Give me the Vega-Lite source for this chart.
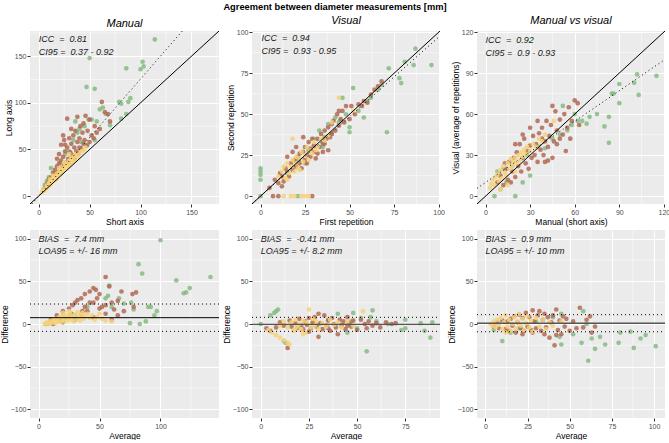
{
"$schema":"https://vega.github.io/schema/vega-lite/v6.json",
"padding":{"left":0,"top":2,"right":4,"bottom":0},
"background":"white",
"title":{"text":"Agreement between diameter measurements [mm]","fontSize":9.3,"fontWeight":"bold","font":"Liberation Sans","anchor":"middle","offset":3,"color":"black"},
"config":{
 "view":{"fill":"#ebebeb","stroke":null},
 "axis":{"domain":false,"grid":true,"gridColor":"white","gridWidth":1,"tickColor":"#333333","tickSize":3,"labelColor":"#4d4d4d","labelFontSize":7,"labelPadding":1,"titleFontSize":8.5,"titleFontWeight":"normal","titleColor":"black","labelFont":"Liberation Sans","titleFont":"Liberation Sans","titlePadding":1,"minExtent":0},
 "axisX":{"titlePadding":2},
 "text":{"font":"Liberation Sans"}
},
"datasets":{
"txt":[
{"p":1,"x":0,"y":168,"s":"ICC\u00a0 =\u00a0 0.81"},{"p":1,"x":0,"y":154,"s":"CI95 =\u00a0 0.37 - 0.92"},
{"p":2,"x":0.5,"y":96.4,"s":"ICC\u00a0 =\u00a0 0.94"},{"p":2,"x":0.5,"y":88.5,"s":"CI95 =\u00a0 0.93 - 0.95"},
{"p":3,"x":0,"y":114,"s":"ICC\u00a0 =\u00a0 0.92"},{"p":3,"x":0,"y":105,"s":"CI95 =\u00a0 0.9 - 0.93"},
{"p":4,"x":0,"y":100,"s":"BIAS\u00a0 =\u00a0 7.4 mm"},{"p":4,"x":0,"y":85,"s":"LOA95 = +/- 16 mm"},
{"p":5,"x":0,"y":100,"s":"BIAS\u00a0 =\u00a0 -0.41 mm"},{"p":5,"x":0,"y":85,"s":"LOA95 = +/- 8.2 mm"},
{"p":6,"x":0,"y":100,"s":"BIAS\u00a0 =\u00a0 0.9 mm"},{"p":6,"x":0,"y":85,"s":"LOA95 = +/- 10 mm"}
],
"lns":[
{"p":1,"t":"s","g":"a","x":-8.5,"y":-8.5},{"p":1,"t":"s","g":"a","x":177,"y":177},
{"p":1,"t":"d","g":"b","x":-6.77,"y":-8.5},{"p":1,"t":"d","g":"b","x":141,"y":177},
{"p":2,"t":"s","g":"a","x":-4.8,"y":-4.8},{"p":2,"t":"s","g":"a","x":100.8,"y":100.8},
{"p":2,"t":"d","g":"b","x":-4.8,"y":-4.66},{"p":2,"t":"d","g":"b","x":100.8,"y":97.78},
{"p":3,"t":"s","g":"a","x":-5.75,"y":-5.75},{"p":3,"t":"s","g":"a","x":120.75,"y":120.75},
{"p":3,"t":"d","g":"b","x":-5.75,"y":5.72},{"p":3,"t":"d","g":"b","x":120.75,"y":99.96},
{"p":4,"t":"s","g":"a","x":-7,"y":7.4},{"p":4,"t":"s","g":"a","x":148,"y":7.4},
{"p":4,"t":"d","g":"b","x":-7,"y":23.4},{"p":4,"t":"d","g":"b","x":148,"y":23.4},
{"p":4,"t":"d","g":"c","x":-7,"y":-8.6},{"p":4,"t":"d","g":"c","x":148,"y":-8.6},
{"p":5,"t":"s","g":"a","x":-4.5,"y":-0.41},{"p":5,"t":"s","g":"a","x":93,"y":-0.41},
{"p":5,"t":"d","g":"b","x":-4.5,"y":7.79},{"p":5,"t":"d","g":"b","x":93,"y":7.79},
{"p":5,"t":"d","g":"c","x":-4.5,"y":-8.61},{"p":5,"t":"d","g":"c","x":93,"y":-8.61},
{"p":6,"t":"s","g":"a","x":-5,"y":0.9},{"p":6,"t":"s","g":"a","x":106.5,"y":0.9},
{"p":6,"t":"d","g":"b","x":-5,"y":10.9},{"p":6,"t":"d","g":"b","x":106.5,"y":10.9},
{"p":6,"t":"d","g":"c","x":-5,"y":-9.1},{"p":6,"t":"d","g":"c","x":106.5,"y":-9.1}
],
"grid":[
{"p":1,"o":"v","v":25},{"p":1,"o":"v","v":75},{"p":1,"o":"v","v":125},{"p":1,"o":"v","v":175},
{"p":1,"o":"h","v":25},{"p":1,"o":"h","v":75},{"p":1,"o":"h","v":125},{"p":1,"o":"h","v":175},
{"p":2,"o":"v","v":12.5},{"p":2,"o":"v","v":37.5},{"p":2,"o":"v","v":62.5},{"p":2,"o":"v","v":87.5},
{"p":2,"o":"h","v":12.5},{"p":2,"o":"h","v":37.5},{"p":2,"o":"h","v":62.5},{"p":2,"o":"h","v":87.5},
{"p":3,"o":"v","v":15},{"p":3,"o":"v","v":45},{"p":3,"o":"v","v":75},{"p":3,"o":"v","v":105},
{"p":3,"o":"h","v":15},{"p":3,"o":"h","v":45},{"p":3,"o":"h","v":75},{"p":3,"o":"h","v":105},
{"p":4,"o":"v","v":25},{"p":4,"o":"v","v":75},{"p":4,"o":"v","v":125},
{"p":4,"o":"h","v":-75},{"p":4,"o":"h","v":-25},{"p":4,"o":"h","v":25},{"p":4,"o":"h","v":75},
{"p":5,"o":"v","v":12.5},{"p":5,"o":"v","v":37.5},{"p":5,"o":"v","v":62.5},{"p":5,"o":"v","v":87.5},
{"p":5,"o":"h","v":-75},{"p":5,"o":"h","v":-25},{"p":5,"o":"h","v":25},{"p":5,"o":"h","v":75},
{"p":6,"o":"v","v":12.5},{"p":6,"o":"v","v":37.5},{"p":6,"o":"v","v":62.5},{"p":6,"o":"v","v":87.5},
{"p":6,"o":"h","v":-75},{"p":6,"o":"h","v":-25},{"p":6,"o":"h","v":25},{"p":6,"o":"h","v":75}
],
"pts":[
{"p":1,"c":"g","x":6,"y":12},{"p":1,"c":"g","x":8,"y":16},{"p":1,"c":"g","x":10,"y":20},{"p":1,"c":"g","x":12,"y":30},{"p":1,"c":"g","x":14,"y":18},{"p":1,"c":"g","x":18,"y":25},{"p":1,"c":"g","x":22,"y":36},{"p":1,"c":"g","x":26,"y":45},{"p":1,"c":"g","x":30,"y":48},{"p":1,"c":"g","x":34,"y":60},{"p":1,"c":"g","x":36,"y":80},{"p":1,"c":"g","x":38,"y":68},{"p":1,"c":"g","x":40,"y":72},{"p":1,"c":"g","x":42,"y":58},{"p":1,"c":"g","x":45,"y":75},{"p":1,"c":"g","x":47,"y":117},{"p":1,"c":"g","x":49,"y":82},{"p":1,"c":"g","x":50,"y":148},{"p":1,"c":"g","x":52,"y":82},{"p":1,"c":"g","x":55,"y":115},{"p":1,"c":"g","x":57,"y":80},{"p":1,"c":"g","x":60,"y":93},{"p":1,"c":"g","x":63,"y":95},{"p":1,"c":"g","x":66,"y":88},{"p":1,"c":"g","x":79,"y":101},{"p":1,"c":"g","x":81,"y":83},{"p":1,"c":"g","x":81,"y":99},{"p":1,"c":"g","x":86,"y":88},{"p":1,"c":"g","x":86,"y":137},{"p":1,"c":"g","x":88,"y":101},{"p":1,"c":"g","x":90,"y":105},{"p":1,"c":"g","x":100,"y":136},{"p":1,"c":"g","x":102,"y":144},{"p":1,"c":"g","x":103,"y":139},{"p":1,"c":"g","x":114,"y":168},{"p":1,"c":"g","x":55,"y":60},{"p":1,"c":"g","x":48,"y":55},{"p":1,"c":"g","x":70,"y":76},
{"p":1,"c":"b","x":5,"y":7},{"p":1,"c":"b","x":7,"y":10},{"p":1,"c":"b","x":9,"y":14},{"p":1,"c":"b","x":10,"y":18},{"p":1,"c":"b","x":12,"y":20},{"p":1,"c":"b","x":13,"y":16},{"p":1,"c":"b","x":14,"y":25},{"p":1,"c":"b","x":15,"y":22},{"p":1,"c":"b","x":16,"y":28},{"p":1,"c":"b","x":17,"y":19},{"p":1,"c":"b","x":18,"y":32},{"p":1,"c":"b","x":19,"y":25},{"p":1,"c":"b","x":20,"y":35},{"p":1,"c":"b","x":20,"y":45},{"p":1,"c":"b","x":21,"y":28},{"p":1,"c":"b","x":22,"y":38},{"p":1,"c":"b","x":22,"y":55},{"p":1,"c":"b","x":23,"y":30},{"p":1,"c":"b","x":24,"y":42},{"p":1,"c":"b","x":25,"y":33},{"p":1,"c":"b","x":25,"y":60},{"p":1,"c":"b","x":26,"y":48},{"p":1,"c":"b","x":27,"y":36},{"p":1,"c":"b","x":28,"y":52},{"p":1,"c":"b","x":28,"y":83},{"p":1,"c":"b","x":29,"y":40},{"p":1,"c":"b","x":30,"y":62},{"p":1,"c":"b","x":30,"y":35},{"p":1,"c":"b","x":31,"y":47},{"p":1,"c":"b","x":32,"y":56},{"p":1,"c":"b","x":33,"y":44},{"p":1,"c":"b","x":34,"y":65},{"p":1,"c":"b","x":35,"y":40},{"p":1,"c":"b","x":35,"y":52},{"p":1,"c":"b","x":36,"y":70},{"p":1,"c":"b","x":37,"y":48},{"p":1,"c":"b","x":38,"y":58},{"p":1,"c":"b","x":39,"y":45},{"p":1,"c":"b","x":40,"y":62},{"p":1,"c":"b","x":40,"y":52},{"p":1,"c":"b","x":41,"y":75},{"p":1,"c":"b","x":42,"y":50},{"p":1,"c":"b","x":43,"y":68},{"p":1,"c":"b","x":44,"y":56},{"p":1,"c":"b","x":45,"y":60},{"p":1,"c":"b","x":46,"y":86},{"p":1,"c":"b","x":47,"y":54},{"p":1,"c":"b","x":48,"y":70},{"p":1,"c":"b","x":50,"y":58},{"p":1,"c":"b","x":52,"y":65},{"p":1,"c":"b","x":54,"y":62},{"p":1,"c":"b","x":55,"y":75},{"p":1,"c":"b","x":57,"y":68},{"p":1,"c":"b","x":60,"y":72},{"p":1,"c":"b","x":62,"y":101},{"p":1,"c":"b","x":65,"y":90},{"p":1,"c":"b","x":68,"y":88},{"p":1,"c":"b","x":70,"y":80},{"p":1,"c":"b","x":24,"y":65},{"p":1,"c":"b","x":32,"y":72},{"p":1,"c":"b","x":38,"y":85},{"p":1,"c":"b","x":18,"y":40},{"p":1,"c":"b","x":26,"y":55},{"p":1,"c":"b","x":44,"y":78},{"p":1,"c":"b","x":50,"y":82},
{"p":1,"c":"y","x":3,"y":4},{"p":1,"c":"y","x":4,"y":5},{"p":1,"c":"y","x":5,"y":6},{"p":1,"c":"y","x":6,"y":7},{"p":1,"c":"y","x":7,"y":8},{"p":1,"c":"y","x":8,"y":9},{"p":1,"c":"y","x":8,"y":11},{"p":1,"c":"y","x":9,"y":10},{"p":1,"c":"y","x":10,"y":12},{"p":1,"c":"y","x":10,"y":14},{"p":1,"c":"y","x":11,"y":12},{"p":1,"c":"y","x":12,"y":15},{"p":1,"c":"y","x":12,"y":13},{"p":1,"c":"y","x":13,"y":17},{"p":1,"c":"y","x":14,"y":16},{"p":1,"c":"y","x":15,"y":18},{"p":1,"c":"y","x":15,"y":20},{"p":1,"c":"y","x":16,"y":17},{"p":1,"c":"y","x":17,"y":21},{"p":1,"c":"y","x":18,"y":20},{"p":1,"c":"y","x":18,"y":24},{"p":1,"c":"y","x":19,"y":22},{"p":1,"c":"y","x":20,"y":23},{"p":1,"c":"y","x":20,"y":26},{"p":1,"c":"y","x":21,"y":24},{"p":1,"c":"y","x":22,"y":28},{"p":1,"c":"y","x":23,"y":25},{"p":1,"c":"y","x":24,"y":30},{"p":1,"c":"y","x":25,"y":28},{"p":1,"c":"y","x":26,"y":33},{"p":1,"c":"y","x":27,"y":30},{"p":1,"c":"y","x":28,"y":35},{"p":1,"c":"y","x":29,"y":32},{"p":1,"c":"y","x":30,"y":38},{"p":1,"c":"y","x":31,"y":34},{"p":1,"c":"y","x":32,"y":40},{"p":1,"c":"y","x":33,"y":36},{"p":1,"c":"y","x":34,"y":42},{"p":1,"c":"y","x":35,"y":38},{"p":1,"c":"y","x":36,"y":45},{"p":1,"c":"y","x":38,"y":42},{"p":1,"c":"y","x":40,"y":45},{"p":1,"c":"y","x":42,"y":48},{"p":1,"c":"y","x":44,"y":49},{"p":1,"c":"y","x":46,"y":52},{"p":1,"c":"y","x":30,"y":45},{"p":1,"c":"y","x":25,"y":36},{"p":1,"c":"y","x":20,"y":30},{"p":1,"c":"y","x":14,"y":22},{"p":1,"c":"y","x":11,"y":18},

{"p":2,"c":"g","x":0,"y":0},{"p":2,"c":"g","x":0,"y":10},{"p":2,"c":"g","x":0,"y":13},{"p":2,"c":"g","x":0,"y":15},{"p":2,"c":"g","x":0,"y":17},{"p":2,"c":"g","x":21,"y":0},{"p":2,"c":"g","x":87,"y":90},{"p":2,"c":"g","x":81,"y":82},{"p":2,"c":"g","x":86,"y":80},{"p":2,"c":"g","x":96,"y":80},{"p":2,"c":"g","x":72,"y":78},{"p":2,"c":"g","x":78,"y":72},{"p":2,"c":"g","x":79,"y":69},{"p":2,"c":"g","x":71,"y":39},{"p":2,"c":"g","x":52,"y":66},{"p":2,"c":"g","x":50,"y":42},{"p":2,"c":"g","x":50,"y":39},{"p":2,"c":"g","x":58,"y":48},{"p":2,"c":"g","x":62,"y":60},{"p":2,"c":"g","x":68,"y":68},{"p":2,"c":"g","x":66,"y":65},{"p":2,"c":"g","x":46,"y":60},{"p":2,"c":"g","x":45,"y":46},{"p":2,"c":"g","x":42,"y":48},{"p":2,"c":"g","x":38,"y":44},{"p":2,"c":"g","x":35,"y":30},{"p":2,"c":"g","x":30,"y":35},{"p":2,"c":"g","x":25,"y":20},{"p":2,"c":"g","x":20,"y":22},{"p":2,"c":"g","x":15,"y":14},{"p":2,"c":"g","x":40,"y":38},{"p":2,"c":"g","x":55,"y":52},{"p":2,"c":"g","x":60,"y":58},{"p":2,"c":"g","x":44,"y":45},{"p":2,"c":"g","x":48,"y":50},{"p":2,"c":"g","x":36,"y":36},{"p":2,"c":"g","x":33,"y":40},{"p":2,"c":"g","x":27,"y":28},
{"p":2,"c":"b","x":5,"y":5},{"p":2,"c":"b","x":8,"y":10},{"p":2,"c":"b","x":10,"y":8},{"p":2,"c":"b","x":11,"y":14},{"p":2,"c":"b","x":12,"y":12},{"p":2,"c":"b","x":13,"y":9},{"p":2,"c":"b","x":14,"y":17},{"p":2,"c":"b","x":15,"y":15},{"p":2,"c":"b","x":16,"y":12},{"p":2,"c":"b","x":17,"y":20},{"p":2,"c":"b","x":18,"y":16},{"p":2,"c":"b","x":19,"y":22},{"p":2,"c":"b","x":20,"y":18},{"p":2,"c":"b","x":21,"y":24},{"p":2,"c":"b","x":22,"y":20},{"p":2,"c":"b","x":22,"y":26},{"p":2,"c":"b","x":23,"y":17},{"p":2,"c":"b","x":24,"y":27},{"p":2,"c":"b","x":25,"y":22},{"p":2,"c":"b","x":25,"y":30},{"p":2,"c":"b","x":26,"y":25},{"p":2,"c":"b","x":27,"y":33},{"p":2,"c":"b","x":28,"y":24},{"p":2,"c":"b","x":28,"y":29},{"p":2,"c":"b","x":29,"y":35},{"p":2,"c":"b","x":30,"y":27},{"p":2,"c":"b","x":30,"y":31},{"p":2,"c":"b","x":31,"y":23},{"p":2,"c":"b","x":32,"y":35},{"p":2,"c":"b","x":33,"y":30},{"p":2,"c":"b","x":34,"y":38},{"p":2,"c":"b","x":35,"y":32},{"p":2,"c":"b","x":35,"y":27},{"p":2,"c":"b","x":36,"y":40},{"p":2,"c":"b","x":37,"y":35},{"p":2,"c":"b","x":38,"y":42},{"p":2,"c":"b","x":39,"y":36},{"p":2,"c":"b","x":40,"y":44},{"p":2,"c":"b","x":40,"y":38},{"p":2,"c":"b","x":41,"y":46},{"p":2,"c":"b","x":42,"y":40},{"p":2,"c":"b","x":43,"y":50},{"p":2,"c":"b","x":44,"y":43},{"p":2,"c":"b","x":45,"y":47},{"p":2,"c":"b","x":46,"y":52},{"p":2,"c":"b","x":47,"y":45},{"p":2,"c":"b","x":48,"y":55},{"p":2,"c":"b","x":50,"y":47},{"p":2,"c":"b","x":51,"y":55},{"p":2,"c":"b","x":53,"y":50},{"p":2,"c":"b","x":55,"y":56},{"p":2,"c":"b","x":57,"y":55},{"p":2,"c":"b","x":58,"y":58},{"p":2,"c":"b","x":60,"y":57},{"p":2,"c":"b","x":62,"y":62},{"p":2,"c":"b","x":64,"y":65},{"p":2,"c":"b","x":66,"y":67},{"p":2,"c":"b","x":68,"y":70},{"p":2,"c":"b","x":38,"y":28},{"p":2,"c":"b","x":24,"y":36},{"p":2,"c":"b","x":20,"y":30},{"p":2,"c":"b","x":15,"y":24},{"p":2,"c":"b","x":32,"y":26},{"p":2,"c":"b","x":44,"y":52},{"p":2,"c":"b","x":7,"y":0},{"p":2,"c":"b","x":10,"y":0},{"p":2,"c":"b","x":29,"y":0},{"p":2,"c":"b","x":12,"y":6},{"p":2,"c":"b","x":36,"y":32},{"p":2,"c":"b","x":26,"y":20},{"p":2,"c":"b","x":18,"y":27},
{"p":2,"c":"y","x":10,"y":12},{"p":2,"c":"y","x":12,"y":15},{"p":2,"c":"y","x":13,"y":18},{"p":2,"c":"y","x":14,"y":11},{"p":2,"c":"y","x":15,"y":20},{"p":2,"c":"y","x":16,"y":14},{"p":2,"c":"y","x":17,"y":18},{"p":2,"c":"y","x":18,"y":22},{"p":2,"c":"y","x":18,"y":35},{"p":2,"c":"y","x":19,"y":15},{"p":2,"c":"y","x":20,"y":20},{"p":2,"c":"y","x":20,"y":24},{"p":2,"c":"y","x":21,"y":17},{"p":2,"c":"y","x":22,"y":23},{"p":2,"c":"y","x":23,"y":27},{"p":2,"c":"y","x":24,"y":21},{"p":2,"c":"y","x":25,"y":25},{"p":2,"c":"y","x":26,"y":30},{"p":2,"c":"y","x":27,"y":22},{"p":2,"c":"y","x":28,"y":28},{"p":2,"c":"y","x":30,"y":33},{"p":2,"c":"y","x":31,"y":28},{"p":2,"c":"y","x":32,"y":30},{"p":2,"c":"y","x":34,"y":35},{"p":2,"c":"y","x":36,"y":34},{"p":2,"c":"y","x":38,"y":37},{"p":2,"c":"y","x":40,"y":45},{"p":2,"c":"y","x":44,"y":60},{"p":2,"c":"y","x":52,"y":52},{"p":2,"c":"y","x":13,"y":0},{"p":2,"c":"y","x":17,"y":0},{"p":2,"c":"y","x":19,"y":0},{"p":2,"c":"y","x":23,"y":0},{"p":2,"c":"y","x":25,"y":0},{"p":2,"c":"y","x":27,"y":0},{"p":2,"c":"y","x":15,"y":10},{"p":2,"c":"y","x":22,"y":16},{"p":2,"c":"y","x":29,"y":26},

{"p":3,"c":"g","x":6,"y":0},{"p":3,"c":"g","x":20,"y":0},{"p":3,"c":"g","x":10,"y":5},{"p":3,"c":"g","x":14,"y":10},{"p":3,"c":"g","x":8,"y":18},{"p":3,"c":"g","x":12,"y":20},{"p":3,"c":"g","x":25,"y":10},{"p":3,"c":"g","x":30,"y":15},{"p":3,"c":"g","x":40,"y":35},{"p":3,"c":"g","x":50,"y":45},{"p":3,"c":"g","x":52,"y":66},{"p":3,"c":"g","x":55,"y":48},{"p":3,"c":"g","x":102,"y":89},{"p":3,"c":"g","x":100,"y":83},{"p":3,"c":"g","x":90,"y":82},{"p":3,"c":"g","x":115,"y":88},{"p":3,"c":"g","x":103,"y":74},{"p":3,"c":"g","x":90,"y":68},{"p":3,"c":"g","x":85,"y":75},{"p":3,"c":"g","x":86,"y":75},{"p":3,"c":"g","x":75,"y":60},{"p":3,"c":"g","x":80,"y":51},{"p":3,"c":"g","x":83,"y":58},{"p":3,"c":"g","x":83,"y":39},{"p":3,"c":"g","x":70,"y":58},{"p":3,"c":"g","x":65,"y":55},{"p":3,"c":"g","x":60,"y":60},{"p":3,"c":"g","x":58,"y":52},{"p":3,"c":"g","x":62,"y":55},{"p":3,"c":"g","x":68,"y":53},{"p":3,"c":"g","x":45,"y":42},{"p":3,"c":"g","x":35,"y":36},{"p":3,"c":"g","x":28,"y":30},{"p":3,"c":"g","x":18,"y":22},
{"p":3,"c":"b","x":8,"y":10},{"p":3,"c":"b","x":10,"y":15},{"p":3,"c":"b","x":12,"y":8},{"p":3,"c":"b","x":14,"y":20},{"p":3,"c":"b","x":15,"y":12},{"p":3,"c":"b","x":16,"y":25},{"p":3,"c":"b","x":18,"y":18},{"p":3,"c":"b","x":19,"y":28},{"p":3,"c":"b","x":20,"y":14},{"p":3,"c":"b","x":21,"y":32},{"p":3,"c":"b","x":22,"y":22},{"p":3,"c":"b","x":23,"y":38},{"p":3,"c":"b","x":24,"y":18},{"p":3,"c":"b","x":25,"y":28},{"p":3,"c":"b","x":26,"y":42},{"p":3,"c":"b","x":27,"y":24},{"p":3,"c":"b","x":28,"y":33},{"p":3,"c":"b","x":29,"y":20},{"p":3,"c":"b","x":30,"y":37},{"p":3,"c":"b","x":31,"y":28},{"p":3,"c":"b","x":32,"y":44},{"p":3,"c":"b","x":33,"y":30},{"p":3,"c":"b","x":34,"y":38},{"p":3,"c":"b","x":35,"y":25},{"p":3,"c":"b","x":36,"y":46},{"p":3,"c":"b","x":37,"y":34},{"p":3,"c":"b","x":38,"y":50},{"p":3,"c":"b","x":39,"y":30},{"p":3,"c":"b","x":40,"y":40},{"p":3,"c":"b","x":40,"y":25},{"p":3,"c":"b","x":41,"y":55},{"p":3,"c":"b","x":42,"y":36},{"p":3,"c":"b","x":43,"y":44},{"p":3,"c":"b","x":44,"y":52},{"p":3,"c":"b","x":45,"y":28},{"p":3,"c":"b","x":45,"y":66},{"p":3,"c":"b","x":46,"y":40},{"p":3,"c":"b","x":47,"y":62},{"p":3,"c":"b","x":48,"y":48},{"p":3,"c":"b","x":50,"y":42},{"p":3,"c":"b","x":50,"y":56},{"p":3,"c":"b","x":52,"y":45},{"p":3,"c":"b","x":53,"y":60},{"p":3,"c":"b","x":55,"y":50},{"p":3,"c":"b","x":56,"y":65},{"p":3,"c":"b","x":57,"y":42},{"p":3,"c":"b","x":58,"y":55},{"p":3,"c":"b","x":60,"y":70},{"p":3,"c":"b","x":62,"y":68},{"p":3,"c":"b","x":63,"y":52},{"p":3,"c":"b","x":54,"y":33},{"p":3,"c":"b","x":30,"y":50},{"p":3,"c":"b","x":25,"y":45},{"p":3,"c":"b","x":35,"y":55},{"p":3,"c":"b","x":20,"y":38},{"p":3,"c":"b","x":17,"y":10},{"p":3,"c":"b","x":13,"y":24},{"p":3,"c":"b","x":42,"y":26},{"p":3,"c":"b","x":48,"y":38},{"p":3,"c":"b","x":38,"y":42},
{"p":3,"c":"y","x":3,"y":6},{"p":3,"c":"y","x":4,"y":9},{"p":3,"c":"y","x":5,"y":12},{"p":3,"c":"y","x":6,"y":8},{"p":3,"c":"y","x":7,"y":14},{"p":3,"c":"y","x":8,"y":16},{"p":3,"c":"y","x":9,"y":11},{"p":3,"c":"y","x":10,"y":19},{"p":3,"c":"y","x":11,"y":13},{"p":3,"c":"y","x":12,"y":22},{"p":3,"c":"y","x":13,"y":17},{"p":3,"c":"y","x":14,"y":15},{"p":3,"c":"y","x":15,"y":24},{"p":3,"c":"y","x":16,"y":20},{"p":3,"c":"y","x":17,"y":27},{"p":3,"c":"y","x":18,"y":22},{"p":3,"c":"y","x":19,"y":25},{"p":3,"c":"y","x":20,"y":28},{"p":3,"c":"y","x":21,"y":24},{"p":3,"c":"y","x":22,"y":30},{"p":3,"c":"y","x":23,"y":26},{"p":3,"c":"y","x":24,"y":32},{"p":3,"c":"y","x":25,"y":29},{"p":3,"c":"y","x":26,"y":34},{"p":3,"c":"y","x":27,"y":31},{"p":3,"c":"y","x":28,"y":36},{"p":3,"c":"y","x":30,"y":33},{"p":3,"c":"y","x":32,"y":38},{"p":3,"c":"y","x":34,"y":36},{"p":3,"c":"y","x":36,"y":42},{"p":3,"c":"y","x":38,"y":40},{"p":3,"c":"y","x":40,"y":45},{"p":3,"c":"y","x":46,"y":55},{"p":3,"c":"y","x":10,"y":5},{"p":3,"c":"y","x":15,"y":8},{"p":3,"c":"y","x":20,"y":18},

{"p":4,"c":"g","x":100,"y":98},{"p":4,"c":"g","x":82,"y":70},{"p":4,"c":"g","x":85,"y":59},{"p":4,"c":"g","x":113,"y":51},{"p":4,"c":"g","x":141,"y":55},{"p":4,"c":"g","x":124,"y":42},{"p":4,"c":"g","x":121,"y":37},{"p":4,"c":"g","x":119,"y":36},{"p":4,"c":"g","x":90,"y":20},{"p":4,"c":"g","x":92,"y":20},{"p":4,"c":"g","x":95,"y":10},{"p":4,"c":"g","x":97,"y":15},{"p":4,"c":"g","x":88,"y":3},{"p":4,"c":"g","x":83,"y":0},{"p":4,"c":"g","x":76,"y":25},{"p":4,"c":"g","x":75,"y":1},{"p":4,"c":"g","x":66,"y":30},{"p":4,"c":"g","x":58,"y":45},{"p":4,"c":"g","x":57,"y":33},{"p":4,"c":"g","x":55,"y":30},{"p":4,"c":"g","x":60,"y":20},{"p":4,"c":"g","x":70,"y":24},{"p":4,"c":"g","x":78,"y":17},{"p":4,"c":"g","x":40,"y":20},{"p":4,"c":"g","x":30,"y":10},{"p":4,"c":"g","x":15,"y":5},{"p":4,"c":"g","x":10,"y":3},{"p":4,"c":"g","x":20,"y":12},
{"p":4,"c":"b","x":55,"y":55},{"p":4,"c":"b","x":58,"y":44},{"p":4,"c":"b","x":45,"y":42},{"p":4,"c":"b","x":47,"y":40},{"p":4,"c":"b","x":42,"y":38},{"p":4,"c":"b","x":48,"y":30},{"p":4,"c":"b","x":50,"y":35},{"p":4,"c":"b","x":68,"y":38},{"p":4,"c":"b","x":80,"y":37},{"p":4,"c":"b","x":77,"y":35},{"p":4,"c":"b","x":78,"y":20},{"p":4,"c":"b","x":65,"y":27},{"p":4,"c":"b","x":60,"y":25},{"p":4,"c":"b","x":35,"y":30},{"p":4,"c":"b","x":30,"y":25},{"p":4,"c":"b","x":28,"y":22},{"p":4,"c":"b","x":25,"y":18},{"p":4,"c":"b","x":20,"y":15},{"p":4,"c":"b","x":15,"y":10},{"p":4,"c":"b","x":10,"y":5},{"p":4,"c":"b","x":38,"y":20},{"p":4,"c":"b","x":40,"y":15},{"p":4,"c":"b","x":45,"y":25},{"p":4,"c":"b","x":52,"y":20},{"p":4,"c":"b","x":35,"y":10},{"p":4,"c":"b","x":30,"y":5},{"p":4,"c":"b","x":25,"y":8},{"p":4,"c":"b","x":60,"y":5},{"p":4,"c":"b","x":65,"y":10},{"p":4,"c":"b","x":70,"y":15},{"p":4,"c":"b","x":55,"y":12},{"p":4,"c":"b","x":45,"y":8},{"p":4,"c":"b","x":20,"y":2},{"p":4,"c":"b","x":12,"y":0},{"p":4,"c":"b","x":6,"y":0},{"p":4,"c":"b","x":8,"y":1},{"p":4,"c":"b","x":32,"y":28},{"p":4,"c":"b","x":38,"y":35},{"p":4,"c":"b","x":42,"y":25},{"p":4,"c":"b","x":50,"y":18},{"p":4,"c":"b","x":55,"y":22},{"p":4,"c":"b","x":62,"y":17},{"p":4,"c":"b","x":36,"y":15},{"p":4,"c":"b","x":27,"y":12},{"p":4,"c":"b","x":22,"y":7},{"p":4,"c":"b","x":18,"y":4},
{"p":4,"c":"y","x":5,"y":0},{"p":4,"c":"y","x":6,"y":1},{"p":4,"c":"y","x":7,"y":2},{"p":4,"c":"y","x":8,"y":0},{"p":4,"c":"y","x":9,"y":3},{"p":4,"c":"y","x":10,"y":1},{"p":4,"c":"y","x":11,"y":4},{"p":4,"c":"y","x":12,"y":2},{"p":4,"c":"y","x":13,"y":5},{"p":4,"c":"y","x":14,"y":1},{"p":4,"c":"y","x":15,"y":6},{"p":4,"c":"y","x":16,"y":3},{"p":4,"c":"y","x":17,"y":8},{"p":4,"c":"y","x":18,"y":2},{"p":4,"c":"y","x":19,"y":5},{"p":4,"c":"y","x":20,"y":9},{"p":4,"c":"y","x":21,"y":3},{"p":4,"c":"y","x":22,"y":7},{"p":4,"c":"y","x":23,"y":10},{"p":4,"c":"y","x":24,"y":4},{"p":4,"c":"y","x":25,"y":8},{"p":4,"c":"y","x":26,"y":12},{"p":4,"c":"y","x":27,"y":5},{"p":4,"c":"y","x":28,"y":9},{"p":4,"c":"y","x":29,"y":3},{"p":4,"c":"y","x":30,"y":11},{"p":4,"c":"y","x":31,"y":6},{"p":4,"c":"y","x":32,"y":14},{"p":4,"c":"y","x":33,"y":8},{"p":4,"c":"y","x":34,"y":4},{"p":4,"c":"y","x":35,"y":10},{"p":4,"c":"y","x":36,"y":13},{"p":4,"c":"y","x":37,"y":6},{"p":4,"c":"y","x":38,"y":9},{"p":4,"c":"y","x":40,"y":12},{"p":4,"c":"y","x":42,"y":7},{"p":4,"c":"y","x":44,"y":10},{"p":4,"c":"y","x":46,"y":5},{"p":4,"c":"y","x":48,"y":8},{"p":4,"c":"y","x":50,"y":12},{"p":4,"c":"y","x":52,"y":6},{"p":4,"c":"y","x":55,"y":4},{"p":4,"c":"y","x":60,"y":3},{"p":4,"c":"y","x":25,"y":15},{"p":4,"c":"y","x":20,"y":13},

{"p":5,"c":"g","x":0,"y":0},{"p":5,"c":"g","x":5,"y":10},{"p":5,"c":"g","x":7,"y":13},{"p":5,"c":"g","x":8,"y":15},{"p":5,"c":"g","x":9,"y":17},{"p":5,"c":"g","x":12,"y":-20},{"p":5,"c":"g","x":13,"y":-22},{"p":5,"c":"g","x":55,"y":-32},{"p":5,"c":"g","x":58,"y":16},{"p":5,"c":"g","x":75,"y":5},{"p":5,"c":"g","x":83,"y":1},{"p":5,"c":"g","x":88,"y":-16},{"p":5,"c":"g","x":89,"y":2},{"p":5,"c":"g","x":75,"y":-5},{"p":5,"c":"g","x":73,"y":-7},{"p":5,"c":"g","x":85,"y":-8},{"p":5,"c":"g","x":60,"y":3},{"p":5,"c":"g","x":50,"y":-5},{"p":5,"c":"g","x":45,"y":-10},{"p":5,"c":"g","x":48,"y":13},{"p":5,"c":"g","x":40,"y":12},{"p":5,"c":"g","x":52,"y":7},{"p":5,"c":"g","x":35,"y":5},{"p":5,"c":"g","x":30,"y":0},{"p":5,"c":"g","x":66,"y":0},{"p":5,"c":"g","x":47,"y":3},{"p":5,"c":"g","x":42,"y":-3},{"p":5,"c":"g","x":57,"y":8},
{"p":5,"c":"b","x":3,"y":-5},{"p":5,"c":"b","x":5,"y":-8},{"p":5,"c":"b","x":8,"y":-4},{"p":5,"c":"b","x":10,"y":2},{"p":5,"c":"b","x":12,"y":-2},{"p":5,"c":"b","x":14,"y":-28},{"p":5,"c":"b","x":15,"y":4},{"p":5,"c":"b","x":16,"y":-3},{"p":5,"c":"b","x":18,"y":1},{"p":5,"c":"b","x":19,"y":-5},{"p":5,"c":"b","x":20,"y":6},{"p":5,"c":"b","x":21,"y":-2},{"p":5,"c":"b","x":22,"y":-6},{"p":5,"c":"b","x":23,"y":3},{"p":5,"c":"b","x":24,"y":-1},{"p":5,"c":"b","x":25,"y":7},{"p":5,"c":"b","x":26,"y":-5},{"p":5,"c":"b","x":27,"y":2},{"p":5,"c":"b","x":28,"y":8},{"p":5,"c":"b","x":29,"y":-3},{"p":5,"c":"b","x":30,"y":-15},{"p":5,"c":"b","x":30,"y":12},{"p":5,"c":"b","x":31,"y":1},{"p":5,"c":"b","x":32,"y":-6},{"p":5,"c":"b","x":33,"y":10},{"p":5,"c":"b","x":34,"y":-2},{"p":5,"c":"b","x":35,"y":4},{"p":5,"c":"b","x":36,"y":-8},{"p":5,"c":"b","x":37,"y":7},{"p":5,"c":"b","x":38,"y":0},{"p":5,"c":"b","x":39,"y":-4},{"p":5,"c":"b","x":40,"y":-12},{"p":5,"c":"b","x":41,"y":5},{"p":5,"c":"b","x":42,"y":-1},{"p":5,"c":"b","x":43,"y":3},{"p":5,"c":"b","x":44,"y":-6},{"p":5,"c":"b","x":45,"y":8},{"p":5,"c":"b","x":46,"y":1},{"p":5,"c":"b","x":47,"y":-3},{"p":5,"c":"b","x":48,"y":4},{"p":5,"c":"b","x":50,"y":-7},{"p":5,"c":"b","x":52,"y":5},{"p":5,"c":"b","x":54,"y":0},{"p":5,"c":"b","x":55,"y":-5},{"p":5,"c":"b","x":56,"y":3},{"p":5,"c":"b","x":58,"y":-2},{"p":5,"c":"b","x":60,"y":1},{"p":5,"c":"b","x":62,"y":-4},{"p":5,"c":"b","x":65,"y":2},{"p":5,"c":"b","x":68,"y":0},{"p":5,"c":"b","x":70,"y":1},{"p":5,"c":"b","x":45,"y":-2},{"p":5,"c":"b","x":35,"y":-5},{"p":5,"c":"b","x":25,"y":-9},
{"p":5,"c":"y","x":4,"y":-7},{"p":5,"c":"y","x":6,"y":-10},{"p":5,"c":"y","x":8,"y":-13},{"p":5,"c":"y","x":10,"y":-16},{"p":5,"c":"y","x":12,"y":-19},{"p":5,"c":"y","x":14,"y":-22},{"p":5,"c":"y","x":15,"y":-24},{"p":5,"c":"y","x":10,"y":-2},{"p":5,"c":"y","x":12,"y":3},{"p":5,"c":"y","x":14,"y":-4},{"p":5,"c":"y","x":16,"y":2},{"p":5,"c":"y","x":17,"y":-8},{"p":5,"c":"y","x":18,"y":5},{"p":5,"c":"y","x":19,"y":-3},{"p":5,"c":"y","x":20,"y":0},{"p":5,"c":"y","x":21,"y":-6},{"p":5,"c":"y","x":22,"y":4},{"p":5,"c":"y","x":23,"y":-10},{"p":5,"c":"y","x":24,"y":2},{"p":5,"c":"y","x":25,"y":17},{"p":5,"c":"y","x":26,"y":-4},{"p":5,"c":"y","x":27,"y":6},{"p":5,"c":"y","x":28,"y":-2},{"p":5,"c":"y","x":29,"y":3},{"p":5,"c":"y","x":30,"y":-6},{"p":5,"c":"y","x":32,"y":1},{"p":5,"c":"y","x":34,"y":-3},{"p":5,"c":"y","x":36,"y":5},{"p":5,"c":"y","x":38,"y":-1},{"p":5,"c":"y","x":40,"y":2},{"p":5,"c":"y","x":42,"y":-4},{"p":5,"c":"y","x":45,"y":3},{"p":5,"c":"y","x":48,"y":-2},{"p":5,"c":"y","x":53,"y":15},{"p":5,"c":"y","x":22,"y":-12},{"p":5,"c":"y","x":18,"y":-7},

{"p":6,"c":"g","x":61,"y":-43},{"p":6,"c":"g","x":65,"y":-29},{"p":6,"c":"g","x":71,"y":-24},{"p":6,"c":"g","x":79,"y":-22},{"p":6,"c":"g","x":88,"y":-28},{"p":6,"c":"g","x":92,"y":-17},{"p":6,"c":"g","x":95,"y":-13},{"p":6,"c":"g","x":101,"y":-26},{"p":6,"c":"g","x":86,"y":-9},{"p":6,"c":"g","x":80,"y":-10},{"p":6,"c":"g","x":68,"y":-15},{"p":6,"c":"g","x":63,"y":-17},{"p":6,"c":"g","x":57,"y":-22},{"p":6,"c":"g","x":45,"y":-24},{"p":6,"c":"g","x":44,"y":-15},{"p":6,"c":"g","x":10,"y":-20},{"p":6,"c":"g","x":58,"y":15},{"p":6,"c":"g","x":45,"y":12},{"p":6,"c":"g","x":40,"y":8},{"p":6,"c":"g","x":30,"y":3},{"p":6,"c":"g","x":20,"y":-5},{"p":6,"c":"g","x":15,"y":-10},{"p":6,"c":"g","x":5,"y":-7},{"p":6,"c":"g","x":60,"y":0},{"p":6,"c":"g","x":52,"y":-12},
{"p":6,"c":"b","x":5,"y":-3},{"p":6,"c":"b","x":7,"y":2},{"p":6,"c":"b","x":8,"y":-5},{"p":6,"c":"b","x":10,"y":4},{"p":6,"c":"b","x":12,"y":-6},{"p":6,"c":"b","x":13,"y":3},{"p":6,"c":"b","x":14,"y":-8},{"p":6,"c":"b","x":15,"y":6},{"p":6,"c":"b","x":16,"y":-2},{"p":6,"c":"b","x":17,"y":9},{"p":6,"c":"b","x":18,"y":-10},{"p":6,"c":"b","x":19,"y":2},{"p":6,"c":"b","x":20,"y":11},{"p":6,"c":"b","x":21,"y":-5},{"p":6,"c":"b","x":22,"y":7},{"p":6,"c":"b","x":23,"y":-8},{"p":6,"c":"b","x":24,"y":13},{"p":6,"c":"b","x":25,"y":-3},{"p":6,"c":"b","x":26,"y":8},{"p":6,"c":"b","x":27,"y":-7},{"p":6,"c":"b","x":28,"y":16},{"p":6,"c":"b","x":29,"y":3},{"p":6,"c":"b","x":30,"y":-5},{"p":6,"c":"b","x":31,"y":10},{"p":6,"c":"b","x":32,"y":15},{"p":6,"c":"b","x":33,"y":-8},{"p":6,"c":"b","x":34,"y":5},{"p":6,"c":"b","x":35,"y":12},{"p":6,"c":"b","x":36,"y":-4},{"p":6,"c":"b","x":37,"y":8},{"p":6,"c":"b","x":38,"y":-16},{"p":6,"c":"b","x":39,"y":2},{"p":6,"c":"b","x":40,"y":10},{"p":6,"c":"b","x":41,"y":-25},{"p":6,"c":"b","x":42,"y":17},{"p":6,"c":"b","x":43,"y":-7},{"p":6,"c":"b","x":44,"y":4},{"p":6,"c":"b","x":45,"y":-12},{"p":6,"c":"b","x":46,"y":9},{"p":6,"c":"b","x":47,"y":-3},{"p":6,"c":"b","x":48,"y":6},{"p":6,"c":"b","x":50,"y":-8},{"p":6,"c":"b","x":52,"y":3},{"p":6,"c":"b","x":54,"y":-5},{"p":6,"c":"b","x":56,"y":19},{"p":6,"c":"b","x":58,"y":-4},{"p":6,"c":"b","x":60,"y":5},{"p":6,"c":"b","x":62,"y":9},{"p":6,"c":"b","x":63,"y":-10},{"p":6,"c":"b","x":65,"y":-3},{"p":6,"c":"b","x":42,"y":-13},{"p":6,"c":"b","x":35,"y":-12},{"p":6,"c":"b","x":28,"y":-10},{"p":6,"c":"b","x":22,"y":-12},
{"p":6,"c":"y","x":3,"y":0},{"p":6,"c":"y","x":4,"y":-2},{"p":6,"c":"y","x":5,"y":3},{"p":6,"c":"y","x":6,"y":-4},{"p":6,"c":"y","x":7,"y":5},{"p":6,"c":"y","x":8,"y":-1},{"p":6,"c":"y","x":9,"y":7},{"p":6,"c":"y","x":10,"y":-6},{"p":6,"c":"y","x":11,"y":2},{"p":6,"c":"y","x":12,"y":10},{"p":6,"c":"y","x":13,"y":-3},{"p":6,"c":"y","x":14,"y":5},{"p":6,"c":"y","x":15,"y":-8},{"p":6,"c":"y","x":16,"y":0},{"p":6,"c":"y","x":17,"y":8},{"p":6,"c":"y","x":18,"y":-5},{"p":6,"c":"y","x":19,"y":3},{"p":6,"c":"y","x":20,"y":12},{"p":6,"c":"y","x":21,"y":-2},{"p":6,"c":"y","x":22,"y":6},{"p":6,"c":"y","x":23,"y":-7},{"p":6,"c":"y","x":24,"y":1},{"p":6,"c":"y","x":25,"y":9},{"p":6,"c":"y","x":26,"y":-4},{"p":6,"c":"y","x":27,"y":4},{"p":6,"c":"y","x":28,"y":-9},{"p":6,"c":"y","x":30,"y":7},{"p":6,"c":"y","x":32,"y":-3},{"p":6,"c":"y","x":34,"y":5},{"p":6,"c":"y","x":36,"y":-6},{"p":6,"c":"y","x":38,"y":2},{"p":6,"c":"y","x":40,"y":-2},{"p":6,"c":"y","x":45,"y":3},{"p":6,"c":"y","x":12,"y":-10}
]
},
"columns":3,
"spacing":{"row":3,"column":2},
"concat":[
{"width":189,"height":173,"title":{"text":"Manual","fontStyle":"italic","fontWeight":"normal","fontSize":11,"offset":2,"font":"Liberation Sans"},
"layer":[
{"data":{"name":"grid"},"transform":[{"filter":"datum.p==1 && datum.o=='v'"}],"mark":{"type":"rule","color":"white","strokeWidth":0.5},"encoding":{"x":{"field":"v","type":"quantitative","scale":{"domain":[-8.5,177],"nice":false,"zero":false},"axis":{"title":"Short axis","values":[0,50,100,150]}}}},
{"data":{"name":"grid"},"transform":[{"filter":"datum.p==1 && datum.o=='h'"}],"mark":{"type":"rule","color":"white","strokeWidth":0.5},"encoding":{"y":{"field":"v","type":"quantitative","scale":{"domain":[-8.5,177],"nice":false,"zero":false},"axis":{"title":"Long axis","values":[0,50,100,150]}}}},
{"data":{"name":"pts"},"transform":[{"filter":"datum.p==1"}],"mark":{"type":"circle","size":22,"opacity":0.85},"encoding":{"x":{"field":"x","type":"quantitative","scale":{"domain":[-8.5,177],"nice":false,"zero":false},"axis":{"title":"Short axis","values":[0,50,100,150]}},"y":{"field":"y","type":"quantitative","scale":{"domain":[-8.5,177],"nice":false,"zero":false},"axis":{"title":"Long axis","values":[0,50,100,150]}},"color":{"field":"c","type":"nominal","scale":{"domain":["g","b","y"],"range":["#86bb83","#b06a52","#f5d27a"]},"legend":null}}},
{"data":{"name":"lns"},"transform":[{"filter":"datum.p==1 && datum.t=='s'"}],"mark":{"type":"line","color":"black","strokeWidth":1,"clip":true},"encoding":{"x":{"field":"x","type":"quantitative","scale":{"domain":[-8.5,177],"nice":false,"zero":false},"axis":{"title":"Short axis","values":[0,50,100,150]}},"y":{"field":"y","type":"quantitative","scale":{"domain":[-8.5,177],"nice":false,"zero":false},"axis":{"title":"Long axis","values":[0,50,100,150]}},"detail":{"field":"g"}}},
{"data":{"name":"lns"},"transform":[{"filter":"datum.p==1 && datum.t=='d'"}],"mark":{"type":"line","color":"black","strokeWidth":1,"strokeDash":[1,3],"clip":true},"encoding":{"x":{"field":"x","type":"quantitative","scale":{"domain":[-8.5,177],"nice":false,"zero":false},"axis":{"title":"Short axis","values":[0,50,100,150]}},"y":{"field":"y","type":"quantitative","scale":{"domain":[-8.5,177],"nice":false,"zero":false},"axis":{"title":"Long axis","values":[0,50,100,150]}},"detail":{"field":"g"}}},
{"data":{"name":"txt"},"transform":[{"filter":"datum.p==1"}],"mark":{"type":"text","align":"left","baseline":"middle","fontStyle":"italic","fontSize":9,"color":"#1a1a1a"},"encoding":{"x":{"field":"x","type":"quantitative","scale":{"domain":[-8.5,177],"nice":false,"zero":false},"axis":{"title":"Short axis","values":[0,50,100,150]}},"y":{"field":"y","type":"quantitative","scale":{"domain":[-8.5,177],"nice":false,"zero":false},"axis":{"title":"Long axis","values":[0,50,100,150]}},"text":{"field":"s"}}}
]},
{"width":188,"height":173,"title":{"text":"Visual","fontStyle":"italic","fontWeight":"normal","fontSize":11,"offset":2,"font":"Liberation Sans"},
"layer":[
{"data":{"name":"grid"},"transform":[{"filter":"datum.p==2 && datum.o=='v'"}],"mark":{"type":"rule","color":"white","strokeWidth":0.5},"encoding":{"x":{"field":"v","type":"quantitative","scale":{"domain":[-4.8,100.8],"nice":false,"zero":false},"axis":{"title":"First repetition","values":[0,25,50,75,100]}}}},
{"data":{"name":"grid"},"transform":[{"filter":"datum.p==2 && datum.o=='h'"}],"mark":{"type":"rule","color":"white","strokeWidth":0.5},"encoding":{"y":{"field":"v","type":"quantitative","scale":{"domain":[-4.8,100.8],"nice":false,"zero":false},"axis":{"title":"Second repetition","values":[0,25,50,75,100]}}}},
{"data":{"name":"pts"},"transform":[{"filter":"datum.p==2"}],"mark":{"type":"circle","size":22,"opacity":0.85},"encoding":{"x":{"field":"x","type":"quantitative","scale":{"domain":[-4.8,100.8],"nice":false,"zero":false},"axis":{"title":"First repetition","values":[0,25,50,75,100]}},"y":{"field":"y","type":"quantitative","scale":{"domain":[-4.8,100.8],"nice":false,"zero":false},"axis":{"title":"Second repetition","values":[0,25,50,75,100]}},"color":{"field":"c","type":"nominal","scale":{"domain":["g","b","y"],"range":["#86bb83","#b06a52","#f5d27a"]},"legend":null}}},
{"data":{"name":"lns"},"transform":[{"filter":"datum.p==2 && datum.t=='s'"}],"mark":{"type":"line","color":"black","strokeWidth":1,"clip":true},"encoding":{"x":{"field":"x","type":"quantitative","scale":{"domain":[-4.8,100.8],"nice":false,"zero":false},"axis":{"title":"First repetition","values":[0,25,50,75,100]}},"y":{"field":"y","type":"quantitative","scale":{"domain":[-4.8,100.8],"nice":false,"zero":false},"axis":{"title":"Second repetition","values":[0,25,50,75,100]}},"detail":{"field":"g"}}},
{"data":{"name":"lns"},"transform":[{"filter":"datum.p==2 && datum.t=='d'"}],"mark":{"type":"line","color":"black","strokeWidth":1,"strokeDash":[1,3],"clip":true},"encoding":{"x":{"field":"x","type":"quantitative","scale":{"domain":[-4.8,100.8],"nice":false,"zero":false},"axis":{"title":"First repetition","values":[0,25,50,75,100]}},"y":{"field":"y","type":"quantitative","scale":{"domain":[-4.8,100.8],"nice":false,"zero":false},"axis":{"title":"Second repetition","values":[0,25,50,75,100]}},"detail":{"field":"g"}}},
{"data":{"name":"txt"},"transform":[{"filter":"datum.p==2"}],"mark":{"type":"text","align":"left","baseline":"middle","fontStyle":"italic","fontSize":9,"color":"#1a1a1a"},"encoding":{"x":{"field":"x","type":"quantitative","scale":{"domain":[-4.8,100.8],"nice":false,"zero":false},"axis":{"title":"First repetition","values":[0,25,50,75,100]}},"y":{"field":"y","type":"quantitative","scale":{"domain":[-4.8,100.8],"nice":false,"zero":false},"axis":{"title":"Second repetition","values":[0,25,50,75,100]}},"text":{"field":"s"}}}
]},
{"width":188,"height":173,"title":{"text":"Manual vs visual","fontStyle":"italic","fontWeight":"normal","fontSize":11,"offset":2,"font":"Liberation Sans"},
"layer":[
{"data":{"name":"grid"},"transform":[{"filter":"datum.p==3 && datum.o=='v'"}],"mark":{"type":"rule","color":"white","strokeWidth":0.5},"encoding":{"x":{"field":"v","type":"quantitative","scale":{"domain":[-5.75,120.75],"nice":false,"zero":false},"axis":{"title":"Manual (short axis)","values":[0,30,60,90,120]}}}},
{"data":{"name":"grid"},"transform":[{"filter":"datum.p==3 && datum.o=='h'"}],"mark":{"type":"rule","color":"white","strokeWidth":0.5},"encoding":{"y":{"field":"v","type":"quantitative","scale":{"domain":[-5.75,120.75],"nice":false,"zero":false},"axis":{"title":"Visual (average of repetitions)","values":[0,30,60,90,120]}}}},
{"data":{"name":"pts"},"transform":[{"filter":"datum.p==3"}],"mark":{"type":"circle","size":22,"opacity":0.85},"encoding":{"x":{"field":"x","type":"quantitative","scale":{"domain":[-5.75,120.75],"nice":false,"zero":false},"axis":{"title":"Manual (short axis)","values":[0,30,60,90,120]}},"y":{"field":"y","type":"quantitative","scale":{"domain":[-5.75,120.75],"nice":false,"zero":false},"axis":{"title":"Visual (average of repetitions)","values":[0,30,60,90,120]}},"color":{"field":"c","type":"nominal","scale":{"domain":["g","b","y"],"range":["#86bb83","#b06a52","#f5d27a"]},"legend":null}}},
{"data":{"name":"lns"},"transform":[{"filter":"datum.p==3 && datum.t=='s'"}],"mark":{"type":"line","color":"black","strokeWidth":1,"clip":true},"encoding":{"x":{"field":"x","type":"quantitative","scale":{"domain":[-5.75,120.75],"nice":false,"zero":false},"axis":{"title":"Manual (short axis)","values":[0,30,60,90,120]}},"y":{"field":"y","type":"quantitative","scale":{"domain":[-5.75,120.75],"nice":false,"zero":false},"axis":{"title":"Visual (average of repetitions)","values":[0,30,60,90,120]}},"detail":{"field":"g"}}},
{"data":{"name":"lns"},"transform":[{"filter":"datum.p==3 && datum.t=='d'"}],"mark":{"type":"line","color":"black","strokeWidth":1,"strokeDash":[1,3],"clip":true},"encoding":{"x":{"field":"x","type":"quantitative","scale":{"domain":[-5.75,120.75],"nice":false,"zero":false},"axis":{"title":"Manual (short axis)","values":[0,30,60,90,120]}},"y":{"field":"y","type":"quantitative","scale":{"domain":[-5.75,120.75],"nice":false,"zero":false},"axis":{"title":"Visual (average of repetitions)","values":[0,30,60,90,120]}},"detail":{"field":"g"}}},
{"data":{"name":"txt"},"transform":[{"filter":"datum.p==3"}],"mark":{"type":"text","align":"left","baseline":"middle","fontStyle":"italic","fontSize":9,"color":"#1a1a1a"},"encoding":{"x":{"field":"x","type":"quantitative","scale":{"domain":[-5.75,120.75],"nice":false,"zero":false},"axis":{"title":"Manual (short axis)","values":[0,30,60,90,120]}},"y":{"field":"y","type":"quantitative","scale":{"domain":[-5.75,120.75],"nice":false,"zero":false},"axis":{"title":"Visual (average of repetitions)","values":[0,30,60,90,120]}},"text":{"field":"s"}}}
]},
{"width":189,"height":188,
"layer":[
{"data":{"name":"grid"},"transform":[{"filter":"datum.p==4 && datum.o=='v'"}],"mark":{"type":"rule","color":"white","strokeWidth":0.5},"encoding":{"x":{"field":"v","type":"quantitative","scale":{"domain":[-7,148],"nice":false,"zero":false},"axis":{"title":"Average","values":[0,50,100]}}}},
{"data":{"name":"grid"},"transform":[{"filter":"datum.p==4 && datum.o=='h'"}],"mark":{"type":"rule","color":"white","strokeWidth":0.5},"encoding":{"y":{"field":"v","type":"quantitative","scale":{"domain":[-110,110],"nice":false,"zero":false},"axis":{"title":"Difference","values":[-100,-50,0,50,100]}}}},
{"data":{"name":"pts"},"transform":[{"filter":"datum.p==4"}],"mark":{"type":"circle","size":22,"opacity":0.85},"encoding":{"x":{"field":"x","type":"quantitative","scale":{"domain":[-7,148],"nice":false,"zero":false},"axis":{"title":"Average","values":[0,50,100]}},"y":{"field":"y","type":"quantitative","scale":{"domain":[-110,110],"nice":false,"zero":false},"axis":{"title":"Difference","values":[-100,-50,0,50,100]}},"color":{"field":"c","type":"nominal","scale":{"domain":["g","b","y"],"range":["#86bb83","#b06a52","#f5d27a"]},"legend":null}}},
{"data":{"name":"lns"},"transform":[{"filter":"datum.p==4 && datum.t=='s'"}],"mark":{"type":"line","color":"black","strokeWidth":1,"clip":true},"encoding":{"x":{"field":"x","type":"quantitative","scale":{"domain":[-7,148],"nice":false,"zero":false},"axis":{"title":"Average","values":[0,50,100]}},"y":{"field":"y","type":"quantitative","scale":{"domain":[-110,110],"nice":false,"zero":false},"axis":{"title":"Difference","values":[-100,-50,0,50,100]}},"detail":{"field":"g"}}},
{"data":{"name":"lns"},"transform":[{"filter":"datum.p==4 && datum.t=='d'"}],"mark":{"type":"line","color":"black","strokeWidth":1,"strokeDash":[1,3],"clip":true},"encoding":{"x":{"field":"x","type":"quantitative","scale":{"domain":[-7,148],"nice":false,"zero":false},"axis":{"title":"Average","values":[0,50,100]}},"y":{"field":"y","type":"quantitative","scale":{"domain":[-110,110],"nice":false,"zero":false},"axis":{"title":"Difference","values":[-100,-50,0,50,100]}},"detail":{"field":"g"}}},
{"data":{"name":"txt"},"transform":[{"filter":"datum.p==4"}],"mark":{"type":"text","align":"left","baseline":"middle","fontStyle":"italic","fontSize":9,"color":"#1a1a1a"},"encoding":{"x":{"field":"x","type":"quantitative","scale":{"domain":[-7,148],"nice":false,"zero":false},"axis":{"title":"Average","values":[0,50,100]}},"y":{"field":"y","type":"quantitative","scale":{"domain":[-110,110],"nice":false,"zero":false},"axis":{"title":"Difference","values":[-100,-50,0,50,100]}},"text":{"field":"s"}}}
]},
{"width":188,"height":188,
"layer":[
{"data":{"name":"grid"},"transform":[{"filter":"datum.p==5 && datum.o=='v'"}],"mark":{"type":"rule","color":"white","strokeWidth":0.5},"encoding":{"x":{"field":"v","type":"quantitative","scale":{"domain":[-4.5,93],"nice":false,"zero":false},"axis":{"title":"Average","values":[0,25,50,75]}}}},
{"data":{"name":"grid"},"transform":[{"filter":"datum.p==5 && datum.o=='h'"}],"mark":{"type":"rule","color":"white","strokeWidth":0.5},"encoding":{"y":{"field":"v","type":"quantitative","scale":{"domain":[-110,110],"nice":false,"zero":false},"axis":{"title":"Difference","values":[-100,-50,0,50,100]}}}},
{"data":{"name":"pts"},"transform":[{"filter":"datum.p==5"}],"mark":{"type":"circle","size":22,"opacity":0.85},"encoding":{"x":{"field":"x","type":"quantitative","scale":{"domain":[-4.5,93],"nice":false,"zero":false},"axis":{"title":"Average","values":[0,25,50,75]}},"y":{"field":"y","type":"quantitative","scale":{"domain":[-110,110],"nice":false,"zero":false},"axis":{"title":"Difference","values":[-100,-50,0,50,100]}},"color":{"field":"c","type":"nominal","scale":{"domain":["g","b","y"],"range":["#86bb83","#b06a52","#f5d27a"]},"legend":null}}},
{"data":{"name":"lns"},"transform":[{"filter":"datum.p==5 && datum.t=='s'"}],"mark":{"type":"line","color":"#555555","strokeWidth":1.3,"clip":true},"encoding":{"x":{"field":"x","type":"quantitative","scale":{"domain":[-4.5,93],"nice":false,"zero":false},"axis":{"title":"Average","values":[0,25,50,75]}},"y":{"field":"y","type":"quantitative","scale":{"domain":[-110,110],"nice":false,"zero":false},"axis":{"title":"Difference","values":[-100,-50,0,50,100]}},"detail":{"field":"g"}}},
{"data":{"name":"lns"},"transform":[{"filter":"datum.p==5 && datum.t=='d'"}],"mark":{"type":"line","color":"black","strokeWidth":1,"strokeDash":[1,3],"clip":true},"encoding":{"x":{"field":"x","type":"quantitative","scale":{"domain":[-4.5,93],"nice":false,"zero":false},"axis":{"title":"Average","values":[0,25,50,75]}},"y":{"field":"y","type":"quantitative","scale":{"domain":[-110,110],"nice":false,"zero":false},"axis":{"title":"Difference","values":[-100,-50,0,50,100]}},"detail":{"field":"g"}}},
{"data":{"name":"txt"},"transform":[{"filter":"datum.p==5"}],"mark":{"type":"text","align":"left","baseline":"middle","fontStyle":"italic","fontSize":9,"color":"#1a1a1a"},"encoding":{"x":{"field":"x","type":"quantitative","scale":{"domain":[-4.5,93],"nice":false,"zero":false},"axis":{"title":"Average","values":[0,25,50,75]}},"y":{"field":"y","type":"quantitative","scale":{"domain":[-110,110],"nice":false,"zero":false},"axis":{"title":"Difference","values":[-100,-50,0,50,100]}},"text":{"field":"s"}}}
]},
{"width":188,"height":188,
"layer":[
{"data":{"name":"grid"},"transform":[{"filter":"datum.p==6 && datum.o=='v'"}],"mark":{"type":"rule","color":"white","strokeWidth":0.5},"encoding":{"x":{"field":"v","type":"quantitative","scale":{"domain":[-5,106.5],"nice":false,"zero":false},"axis":{"title":"Average","values":[0,25,50,75,100]}}}},
{"data":{"name":"grid"},"transform":[{"filter":"datum.p==6 && datum.o=='h'"}],"mark":{"type":"rule","color":"white","strokeWidth":0.5},"encoding":{"y":{"field":"v","type":"quantitative","scale":{"domain":[-110,110],"nice":false,"zero":false},"axis":{"title":"Difference","values":[-100,-50,0,50,100]}}}},
{"data":{"name":"pts"},"transform":[{"filter":"datum.p==6"}],"mark":{"type":"circle","size":22,"opacity":0.85},"encoding":{"x":{"field":"x","type":"quantitative","scale":{"domain":[-5,106.5],"nice":false,"zero":false},"axis":{"title":"Average","values":[0,25,50,75,100]}},"y":{"field":"y","type":"quantitative","scale":{"domain":[-110,110],"nice":false,"zero":false},"axis":{"title":"Difference","values":[-100,-50,0,50,100]}},"color":{"field":"c","type":"nominal","scale":{"domain":["g","b","y"],"range":["#86bb83","#b06a52","#f5d27a"]},"legend":null}}},
{"data":{"name":"lns"},"transform":[{"filter":"datum.p==6 && datum.t=='s'"}],"mark":{"type":"line","color":"#555555","strokeWidth":1.3,"clip":true},"encoding":{"x":{"field":"x","type":"quantitative","scale":{"domain":[-5,106.5],"nice":false,"zero":false},"axis":{"title":"Average","values":[0,25,50,75,100]}},"y":{"field":"y","type":"quantitative","scale":{"domain":[-110,110],"nice":false,"zero":false},"axis":{"title":"Difference","values":[-100,-50,0,50,100]}},"detail":{"field":"g"}}},
{"data":{"name":"lns"},"transform":[{"filter":"datum.p==6 && datum.t=='d'"}],"mark":{"type":"line","color":"black","strokeWidth":1,"strokeDash":[1,3],"clip":true},"encoding":{"x":{"field":"x","type":"quantitative","scale":{"domain":[-5,106.5],"nice":false,"zero":false},"axis":{"title":"Average","values":[0,25,50,75,100]}},"y":{"field":"y","type":"quantitative","scale":{"domain":[-110,110],"nice":false,"zero":false},"axis":{"title":"Difference","values":[-100,-50,0,50,100]}},"detail":{"field":"g"}}},
{"data":{"name":"txt"},"transform":[{"filter":"datum.p==6"}],"mark":{"type":"text","align":"left","baseline":"middle","fontStyle":"italic","fontSize":9,"color":"#1a1a1a"},"encoding":{"x":{"field":"x","type":"quantitative","scale":{"domain":[-5,106.5],"nice":false,"zero":false},"axis":{"title":"Average","values":[0,25,50,75,100]}},"y":{"field":"y","type":"quantitative","scale":{"domain":[-110,110],"nice":false,"zero":false},"axis":{"title":"Difference","values":[-100,-50,0,50,100]}},"text":{"field":"s"}}}
]}
]
}
